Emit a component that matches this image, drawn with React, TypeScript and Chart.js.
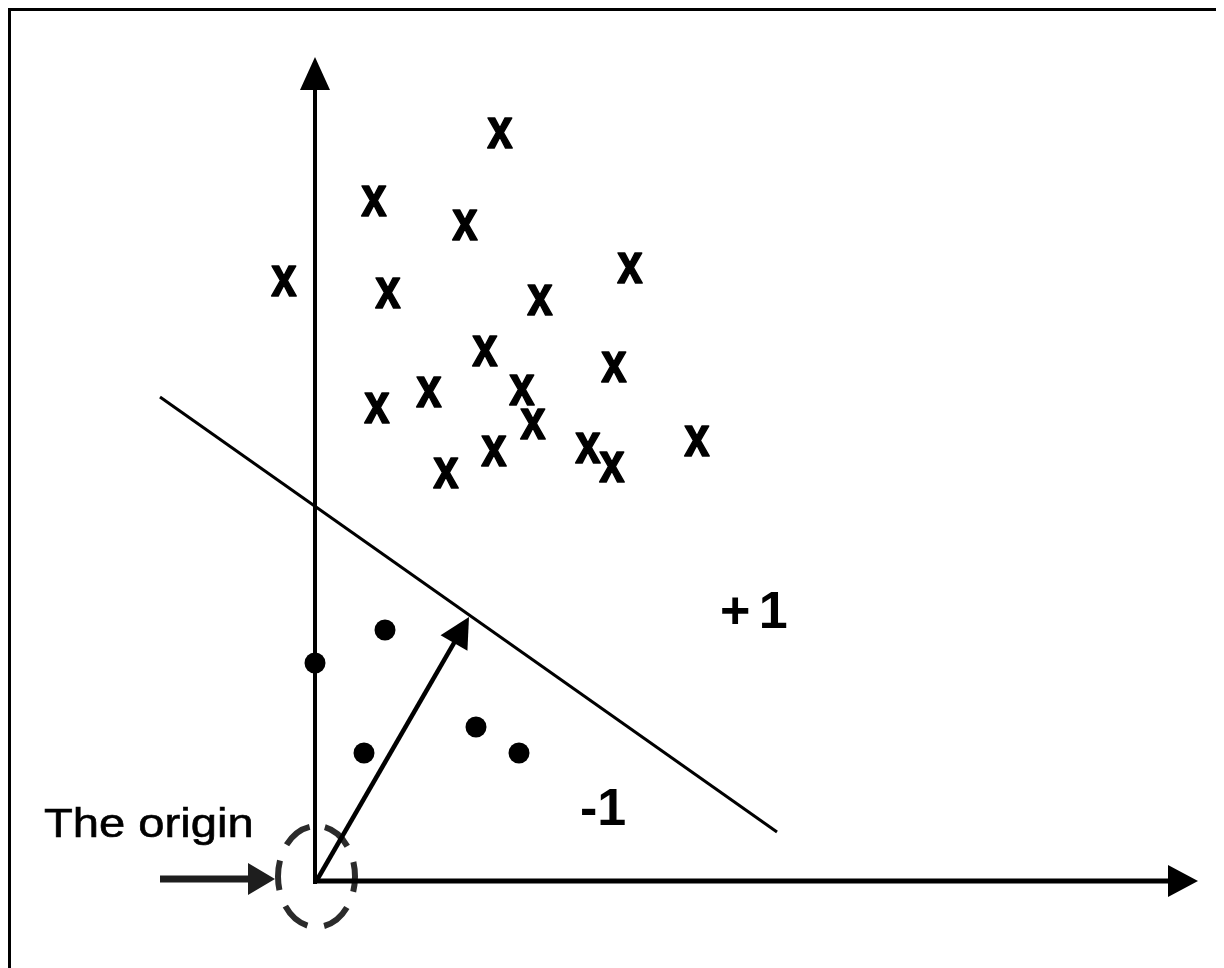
import React, { useEffect, useRef } from "react";
import { Chart, registerables } from "chart.js";

Chart.register(...registerables);

// ---- data (units: origin at 0,0) ----
const crossX = [1.85, 0.59, 1.5, -0.31, 0.73, 3.15, 2.25, 1.7, 2.99, 0.62, 1.14, 2.07, 2.18, 1.79, 1.31, 2.73, 2.97, 3.82];
const crossY = [7.48, 6.8, 6.56, 6.0, 5.88, 6.13, 5.81, 5.3, 5.14, 4.73, 4.89, 4.91, 4.57, 4.3, 4.08, 4.33, 4.14, 4.4];

const dotX = [0.7, 0.0, 0.49, 1.61, 2.04];
const dotY = [2.51, 2.18, 1.28, 1.54, 1.28];

const boundaryX = [-1.55, 4.62];
const boundaryY = [4.84, 0.49];

const weightX = [0.02, 1.54];
const weightY = [0.01, 2.64];

const yAxisX = [0, 0];
const yAxisY = [-0.03, 8.24];

const xAxisX = [-0.02, 8.83];
const xAxisY = [0, 0];

const pointerX = [-1.55, -0.4];
const pointerY = [0.02, 0.02];

const ringCenter = [0.015, 0.045];
const ringRadii = [0.385, 0.505];

const labelTexts = ["The origin", "+ 1", "-1"];
const labelX = [-2.71, 4.05, 2.65];
const labelY = [0.44, 2.53, 0.56];

const X_MIN = -3.04;
const X_MAX = 9.09;
const Y_MIN = -0.87;
const Y_MAX = 8.7;

const zip = (xs: number[], ys: number[]) => xs.map((x, i) => ({ x, y: ys[i] }));

function makeCrossGlyph(): HTMLCanvasElement {
  const c = document.createElement("canvas");
  c.width = 36;
  c.height = 36;
  const g = c.getContext("2d")!;
  g.fillStyle = "#000";
  g.strokeStyle = "#000";
  g.lineWidth = 1.6;
  g.lineJoin = "round";
  g.font = 'bold 57px "Liberation Sans", Arial, Helvetica, sans-serif';
  g.textAlign = "center";
  g.textBaseline = "alphabetic";
  g.translate(18, 18);
  g.scale(0.8, 1);
  g.fillText("x", 0, 14.5);
  g.strokeText("x", 0, 14.5);
  return c;
}

const arrowPlugin = {
  id: "arrowHeads",
  afterDatasetsDraw(chart: any) {
    const ctx = chart.ctx;
    chart.data.datasets.forEach((ds: any, i: number) => {
      const a = ds.arrow;
      if (!a) return;
      const pts = chart.getDatasetMeta(i).data;
      const p0 = pts[0];
      const p1 = pts[pts.length - 1];
      const dx = p1.x - p0.x;
      const dy = p1.y - p0.y;
      const len = Math.hypot(dx, dy);
      const ux = dx / len;
      const uy = dy / len;
      const bx = p1.x - ux * a.head;
      const by = p1.y - uy * a.head;
      const hw = a.headWidth / 2;
      ctx.save();
      ctx.strokeStyle = a.color;
      ctx.fillStyle = a.color;
      ctx.lineWidth = a.width;
      ctx.lineCap = "butt";
      ctx.beginPath();
      ctx.moveTo(p0.x, p0.y);
      ctx.lineTo(bx + ux, by + uy);
      ctx.stroke();
      ctx.beginPath();
      ctx.moveTo(p1.x, p1.y);
      ctx.lineTo(bx - uy * hw, by + ux * hw);
      ctx.lineTo(bx + uy * hw, by - ux * hw);
      ctx.closePath();
      ctx.fill();
      ctx.restore();
    });
  },
};

const ringPlugin = {
  id: "originRing",
  beforeDatasetsDraw(chart: any) {
    const ctx = chart.ctx;
    const xs = chart.scales.x;
    const ys = chart.scales.y;
    const cx = xs.getPixelForValue(ringCenter[0]);
    const cy = ys.getPixelForValue(ringCenter[1]);
    const rx = xs.getPixelForValue(ringCenter[0] + ringRadii[0]) - cx;
    const ry = cy - ys.getPixelForValue(ringCenter[1] + ringRadii[1]);
    ctx.save();
    ctx.strokeStyle = "#2b2b2b";
    ctx.lineWidth = 6;
    ctx.setLineDash([30, 17]);
    ctx.lineDashOffset = 38.5;
    ctx.beginPath();
    ctx.ellipse(cx, cy, rx, ry, 0, -Math.PI / 2, (3 * Math.PI) / 2);
    ctx.stroke();
    ctx.restore();
  },
};

const labelPlugin = {
  id: "textLabels",
  afterDatasetsDraw(chart: any) {
    const ctx = chart.ctx;
    const xs = chart.scales.x;
    const ys = chart.scales.y;
    labelTexts.forEach((t, i) => {
      const px = xs.getPixelForValue(labelX[i]);
      const py = ys.getPixelForValue(labelY[i]);
      ctx.save();
      ctx.fillStyle = "#000";
      ctx.strokeStyle = "#000";
      ctx.textAlign = "left";
      ctx.textBaseline = "alphabetic";
      if (i === 0) {
        ctx.font = '41px "Liberation Sans", Arial, Helvetica, sans-serif';
        ctx.translate(px, py);
        ctx.scale(1.15, 1);
        ctx.lineWidth = 0.6;
        ctx.fillText(t, 0, 0);
        ctx.strokeText(t, 0, 0);
      } else {
        ctx.font = 'bold 52px "Liberation Sans", Arial, Helvetica, sans-serif';
        (ctx as any).letterSpacing = i === 1 ? "-3px" : "0px";
        ctx.fillText(t, px, py);
      }
      ctx.restore();
    });
  },
};

export default function App() {
  const ref = useRef<HTMLCanvasElement | null>(null);

  useEffect(() => {
    if (!ref.current) return;
    const prevOverflow = document.body.style.overflow;
    document.body.style.overflow = "hidden";
    const glyph = makeCrossGlyph();
    const arrowSet = (xs: number[], ys: number[], arrow: any) => ({
      data: zip(xs, ys),
      showLine: false,
      pointRadius: 0,
      pointHoverRadius: 0,
      arrow,
    });
    const chart = new Chart(ref.current, {
      type: "scatter",
      data: {
        datasets: [
          {
            data: zip(boundaryX, boundaryY),
            showLine: true,
            borderColor: "#000",
            borderWidth: 3,
            pointRadius: 0,
            pointHoverRadius: 0,
          } as any,
          arrowSet(yAxisX, yAxisY, { width: 4, head: 33, headWidth: 30, color: "#000" }),
          arrowSet(xAxisX, xAxisY, { width: 5, head: 30, headWidth: 32, color: "#000" }),
          arrowSet(weightX, weightY, { width: 4.5, head: 30, headWidth: 31, color: "#000" }),
          arrowSet(pointerX, pointerY, { width: 7, head: 27, headWidth: 32, color: "#1e1e1e" }),
          {
            data: zip(dotX, dotY),
            pointRadius: 10.5,
            pointHoverRadius: 10.5,
            pointBackgroundColor: "#000",
            pointBorderWidth: 0,
            borderColor: "#000",
          } as any,
          {
            data: zip(crossX, crossY),
            pointStyle: glyph,
            pointRadius: 15,
            pointHoverRadius: 15,
          } as any,
        ],
      },
      options: {
        animation: false,
        responsive: false,
        events: [],
        layout: { padding: 0, autoPadding: false },
        plugins: { legend: { display: false }, tooltip: { enabled: false } },
        scales: {
          x: { type: "linear", display: false, min: X_MIN, max: X_MAX },
          y: { type: "linear", display: false, min: Y_MIN, max: Y_MAX },
        },
      },
      plugins: [ringPlugin, arrowPlugin, labelPlugin],
    });
    return () => {
      chart.destroy();
      document.body.style.overflow = prevOverflow;
    };
  }, []);

  return (
    <div
      style={{
        width: 1216,
        height: 960,
        boxSizing: "border-box",
        borderLeft: "3px solid #000",
        borderTop: "3px solid #000",
        background: "#fff",
      }}
    >
      <canvas ref={ref} width={1213} height={957} style={{ display: "block" }} />
    </div>
  );
}
